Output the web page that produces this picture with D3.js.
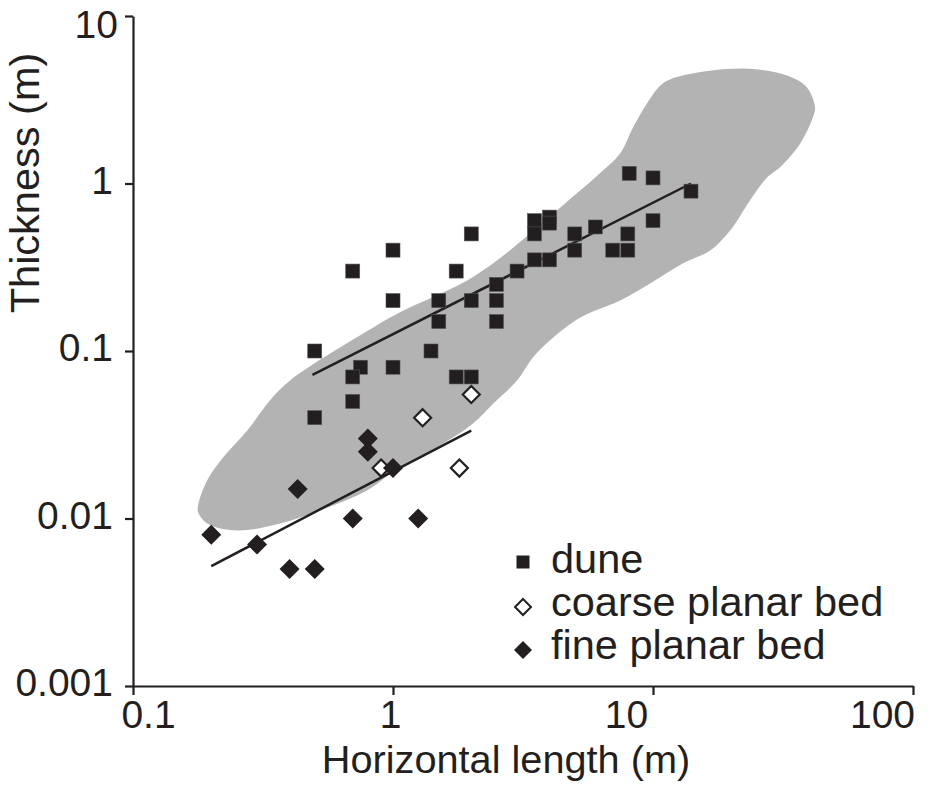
<!DOCTYPE html>
<html>
<head>
<meta charset="utf-8">
<script src="https://cdn.jsdelivr.net/npm/d3@7"></script>
<style>
  body { margin: 0; background: #fff; }
  svg text { font-family: "Liberation Sans", Arial, Helvetica, sans-serif; fill: #231f20; }
</style>
</head>
<body>
<svg id="chart"></svg>
<script>
// data (metres)
var duneData = [
  [0.5, 0.1], [0.7, 0.3], [1, 0.4], [1, 0.2], [1.75, 0.3], [2, 0.5],
  [1.5, 0.2], [1.5, 0.15], [2, 0.2], [2.5, 0.25], [2.5, 0.2], [2.5, 0.15],
  [1.4, 0.1], [0.75, 0.08], [0.7, 0.07], [1, 0.08], [1.75, 0.07], [2, 0.07],
  [0.7, 0.05], [0.5, 0.04], [3, 0.3], [3.5, 0.6], [3.5, 0.5], [3.5, 0.35],
  [4, 0.63], [4, 0.58], [4, 0.35], [5, 0.5], [5, 0.4], [6, 0.55], [7, 0.4],
  [8, 0.4], [8, 0.5], [8.1, 1.15], [10, 1.08], [10, 0.6], [14, 0.9]
];
var coarseData = [[0.9, 0.02], [1.3, 0.04], [2.0, 0.055], [1.8, 0.02]];
var fineData = [
  [0.2, 0.008], [0.3, 0.007], [0.43, 0.015], [0.4, 0.005], [0.5, 0.005],
  [0.7, 0.01], [1.25, 0.01], [0.8, 0.03], [0.8, 0.025], [1.0, 0.02]
];
var duneFit = [[0.49, 0.072], [14, 1.0]];
var fineFit = [[0.2, 0.0052], [2.0, 0.0335]];

// outline of the grey field
var envelope = [
  [0.178, 0.012], [0.193, 0.0169], [0.222, 0.0231], [0.275, 0.0335], [0.336, 0.0506],
  [0.402, 0.0667], [0.767, 0.127], [1.06, 0.17], [1.52, 0.22], [1.93, 0.264],
  [2.51, 0.347], [3.37, 0.503], [4.59, 0.76], [6.25, 1.15], [7.47, 1.51],
  [8.38, 2.16], [9.48, 3.0], [10.9, 3.95], [13.0, 4.41], [22.2, 4.86],
  [32.8, 4.41], [39.1, 3.74], [42.0, 2.84], [41.2, 2.48], [36.8, 1.73],
  [30.8, 1.25], [27.5, 1.09], [23.6, 0.792], [19.8, 0.524], [16.6, 0.398],
  [13.0, 0.333], [9.74, 0.253], [7.47, 0.2], [5.24, 0.158], [4.02, 0.116],
  [3.45, 0.0915], [3.0, 0.0667], [2.43, 0.0486], [2.03, 0.0369], [1.56, 0.028],
  [1.06, 0.0202], [0.794, 0.0147], [0.524, 0.0112], [0.368, 0.00934],
  [0.251, 0.00848], [0.193, 0.00934], [0.178, 0.0109]
];

var xTicks = [0.1, 1, 10, 100];
var xTickLabels = ["0.1", "1", "10", "100"];
var yTicks = [0.001, 0.01, 0.1, 1, 10];
var yTickLabels = ["0.001", "0.01", "0.1", "1", "10"];
var legendNames = ["dune", "coarse planar bed", "fine planar bed"];

var width = 929, height = 804;
var ink = "#231f20";
var fontSize = 39;

var svg = d3.select("#chart").attr("width", width).attr("height", height);

var x = d3.scaleLog().domain([0.1, 100]).range([133, 913]);
var y = d3.scaleLog().domain([0.001, 10]).range([686, 16]);

// grey field
var envLine = d3.line()
  .x(function(d) { return x(d[0]); })
  .y(function(d) { return y(d[1]); })
  .curve(d3.curveCatmullRomClosed.alpha(0.5));
svg.append("path")
  .datum(envelope)
  .attr("d", envLine)
  .attr("fill", "#b3b3b3");

// fitted lines
var fitLine = d3.line()
  .x(function(d) { return x(d[0]); })
  .y(function(d) { return y(d[1]); });
[duneFit, fineFit].forEach(function(f) {
  svg.append("path")
    .datum(f)
    .attr("d", fitLine)
    .attr("fill", "none")
    .attr("stroke", ink)
    .attr("stroke-width", 2.5);
});

// markers
var sq = 14;
svg.append("g").selectAll("rect")
  .data(duneData)
  .enter().append("rect")
  .attr("x", function(d) { return x(d[0]) - sq / 2; })
  .attr("y", function(d) { return y(d[1]) - sq / 2; })
  .attr("width", sq)
  .attr("height", sq)
  .attr("fill", ink)
  .attr("stroke", "#555")
  .attr("stroke-width", 0.6);

var diamond = function(r) {
  return "M0," + (-r) + "L" + r + ",0L0," + r + "L" + (-r) + ",0Z";
};

svg.append("g").selectAll("path")
  .data(coarseData)
  .enter().append("path")
  .attr("transform", function(d) { return "translate(" + x(d[0]) + "," + y(d[1]) + ")"; })
  .attr("d", diamond(8.5))
  .attr("fill", "#fff")
  .attr("stroke", ink)
  .attr("stroke-width", 2.2);

svg.append("g").selectAll("path")
  .data(fineData)
  .enter().append("path")
  .attr("transform", function(d) { return "translate(" + x(d[0]) + "," + y(d[1]) + ")"; })
  .attr("d", diamond(10))
  .attr("fill", ink);

// axes
var xAxis = d3.axisBottom(x).tickValues(xTicks).tickSize(9).tickSizeOuter(0)
  .tickFormat(function(d, i) { return xTickLabels[i]; }).tickPadding(12);
var yAxis = d3.axisLeft(y).tickValues(yTicks).tickSize(8).tickSizeOuter(0)
  .tickFormat(function(d, i) { return yTickLabels[i]; }).tickPadding(12);

var xAxisG = svg.append("g").attr("transform", "translate(0,686)").call(xAxis);
var yAxisG = svg.append("g").attr("transform", "translate(133,0)").call(yAxis);

[xAxisG, yAxisG].forEach(function(g) {
  g.select(".domain").attr("stroke", ink).attr("stroke-width", 2.2);
  g.selectAll(".tick line").attr("stroke", ink).attr("stroke-width", 2.2);
  g.selectAll(".tick text")
    .attr("font-size", fontSize)
    .attr("font-family", "Liberation Sans, Arial, sans-serif")
    .attr("fill", ink);
});

// label nudges so they sit like the original
var xLabelDx = [15, -3, -27, -31];
xAxisG.selectAll(".tick text")
  .attr("dx", function(d, i) { return xLabelDx[i]; })
  .attr("y", 14)
  .attr("dy", "0.71em");
yAxisG.selectAll(".tick text")
  .attr("dy", function(d, i) { return i === 4 ? "0.55em" : "0.25em"; })
  .attr("dx", function(d, i) { return i === 4 ? 5 : 0; });

// axis titles
svg.append("text")
  .attr("x", 506)
  .attr("y", 773)
  .attr("text-anchor", "middle")
  .attr("font-size", 39.7)
  .text("Horizontal length (m)");

svg.append("text")
  .attr("transform", "translate(39,183) rotate(-90)")
  .attr("text-anchor", "middle")
  .attr("font-size", 41.5)
  .text("Thickness (m)");

// legend
var lx = 523, ly = 562, lstep = 43;
var legend = svg.append("g");
legend.append("rect")
  .attr("x", lx - 6.5).attr("y", ly - 6.5)
  .attr("width", 13).attr("height", 13)
  .attr("fill", ink);
legend.append("path")
  .attr("transform", "translate(" + lx + "," + (ly + lstep + 2) + ")")
  .attr("d", diamond(8))
  .attr("fill", "#fff").attr("stroke", ink).attr("stroke-width", 2);
legend.append("path")
  .attr("transform", "translate(" + lx + "," + (ly + 2 * lstep + 2) + ")")
  .attr("d", diamond(9))
  .attr("fill", ink);
legend.selectAll("text.lg")
  .data(legendNames)
  .enter().append("text")
  .attr("class", "lg")
  .attr("x", 551)
  .attr("y", function(d, i) { return 573 + i * lstep; })
  .attr("font-size", 41.5)
  .text(function(d) { return d; });
</script>
</body>
</html>
